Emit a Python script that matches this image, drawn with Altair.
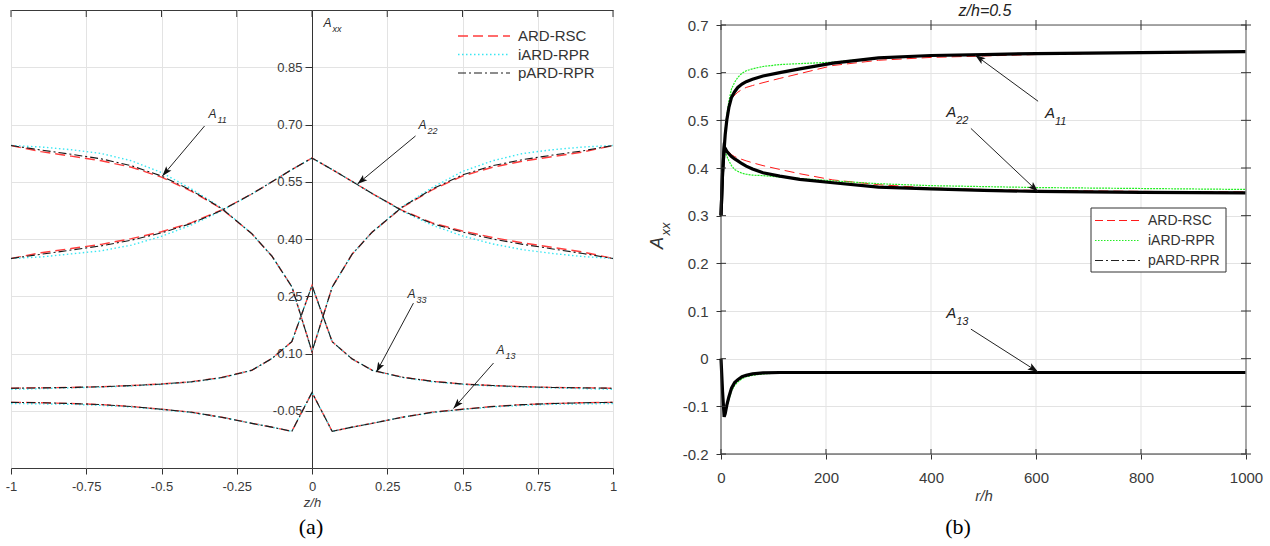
import math
import altair as alt
import pandas as pd

# ---------------- panel (a): A_xx versus z/h ----------------
Z = [-1, -0.9, -0.8, -0.7, -0.6, -0.5, -0.4, -0.3, -0.2, -0.133, -0.067, 0,
     0.067, 0.133, 0.2, 0.3, 0.4, 0.5, 0.6, 0.7, 0.8, 0.9, 1]

A11_ARD = [0.645, 0.629, 0.617, 0.605, 0.588, 0.562, 0.525, 0.479, 0.414, 0.355, 0.275, 0.105,
           0.274, 0.360, 0.418, 0.483, 0.529, 0.565, 0.588, 0.604, 0.616, 0.628, 0.645]
A11_IARD = [0.645, 0.641, 0.634, 0.624, 0.605, 0.574, 0.531, 0.481, 0.414, 0.355, 0.275, 0.105,
            0.274, 0.360, 0.418, 0.485, 0.535, 0.577, 0.605, 0.624, 0.634, 0.641, 0.645]
A11_PARD = [0.645, 0.633, 0.622, 0.610, 0.592, 0.565, 0.527, 0.480, 0.414, 0.355, 0.275, 0.105,
            0.274, 0.360, 0.418, 0.484, 0.531, 0.568, 0.592, 0.608, 0.620, 0.631, 0.645]

A22_ARD = [0.349, 0.364, 0.375, 0.386, 0.401, 0.419, 0.443, 0.476, 0.518, 0.550, 0.582, 0.612,
           0.582, 0.551, 0.519, 0.475, 0.442, 0.421, 0.404, 0.390, 0.378, 0.366, 0.349]
A22_IARD = [0.349, 0.353, 0.361, 0.369, 0.384, 0.407, 0.437, 0.474, 0.518, 0.550, 0.582, 0.612,
            0.582, 0.551, 0.519, 0.473, 0.436, 0.408, 0.387, 0.372, 0.362, 0.354, 0.349]
A22_PARD = [0.349, 0.360, 0.371, 0.382, 0.397, 0.416, 0.441, 0.475, 0.518, 0.550, 0.582, 0.612,
            0.582, 0.551, 0.519, 0.474, 0.440, 0.418, 0.400, 0.386, 0.374, 0.362, 0.349]

A33_ARD = [0.009, 0.010, 0.011, 0.013, 0.016, 0.020, 0.026, 0.037, 0.056, 0.087, 0.131, 0.278,
           0.131, 0.086, 0.056, 0.038, 0.027, 0.020, 0.016, 0.013, 0.011, 0.010, 0.009]
A33_IARD = [0.006, 0.008, 0.010, 0.012, 0.015, 0.019, 0.025, 0.036, 0.056, 0.087, 0.131, 0.278,
            0.131, 0.086, 0.056, 0.037, 0.026, 0.019, 0.015, 0.012, 0.010, 0.008, 0.006]
A33_PARD = [0.009, 0.010, 0.011, 0.013, 0.016, 0.020, 0.026, 0.037, 0.056, 0.087, 0.131, 0.278,
            0.131, 0.086, 0.056, 0.038, 0.027, 0.020, 0.016, 0.013, 0.011, 0.010, 0.009]

A13_ARD = [-0.028, -0.029, -0.031, -0.034, -0.039, -0.046, -0.054, -0.067, -0.083, -0.093, -0.104, -0.002,
           -0.104, -0.093, -0.083, -0.067, -0.054, -0.046, -0.039, -0.034, -0.031, -0.029, -0.028]
A13_IARD = [-0.031, -0.032, -0.033, -0.036, -0.040, -0.047, -0.055, -0.067, -0.083, -0.093, -0.104, -0.002,
            -0.104, -0.093, -0.083, -0.067, -0.055, -0.047, -0.040, -0.036, -0.033, -0.032, -0.031]
A13_PARD = [-0.028, -0.029, -0.031, -0.034, -0.039, -0.046, -0.054, -0.067, -0.083, -0.093, -0.104, -0.002,
            -0.104, -0.093, -0.083, -0.067, -0.054, -0.046, -0.039, -0.034, -0.031, -0.029, -0.028]

# ---------------- panel (b): A_xx versus r/h at z/h = 0.5 ----------------
R = [0, 3, 6, 8, 11, 15, 20, 26, 32, 40, 48, 60, 80, 112, 150, 213, 300, 400, 500, 600, 700, 800, 900, 1000]

B11_ARD = [0.30, 0.39, 0.44, 0.47, 0.50, 0.525, 0.545, 0.553, 0.559, 0.565, 0.569, 0.573, 0.579, 0.588,
           0.598, 0.615, 0.626, 0.632, 0.635, 0.638, 0.640, 0.641, 0.642, 0.643]
B11_IARD = [0.30, 0.39, 0.44, 0.48, 0.51, 0.54, 0.566, 0.580, 0.590, 0.599, 0.604, 0.608, 0.613, 0.617,
            0.619, 0.622, 0.631, 0.636, 0.638, 0.640, 0.641, 0.642, 0.643, 0.644]
B11_PARD = [0.30, 0.39, 0.44, 0.47, 0.50, 0.527, 0.548, 0.560, 0.569, 0.576, 0.581, 0.586, 0.593, 0.600,
            0.608, 0.620, 0.631, 0.636, 0.638, 0.640, 0.641, 0.642, 0.643, 0.644]

B22_ARD = [0.30, 0.39, 0.444, 0.442, 0.438, 0.434, 0.428, 0.424, 0.421, 0.418, 0.415, 0.411, 0.405, 0.397,
           0.388, 0.375, 0.365, 0.358, 0.355, 0.353, 0.352, 0.351, 0.350, 0.350]
B22_IARD = [0.30, 0.39, 0.440, 0.435, 0.425, 0.415, 0.405, 0.397, 0.393, 0.389, 0.387, 0.385, 0.384, 0.381,
            0.378, 0.373, 0.367, 0.363, 0.361, 0.359, 0.358, 0.357, 0.356, 0.355]
B22_PARD = [0.30, 0.39, 0.444, 0.441, 0.435, 0.430, 0.424, 0.419, 0.415, 0.409, 0.404, 0.398, 0.390, 0.383,
            0.376, 0.369, 0.360, 0.356, 0.353, 0.351, 0.350, 0.349, 0.3485, 0.348]

B13_ARD = [0.0, -0.07, -0.122, -0.115, -0.098, -0.080, -0.062, -0.050, -0.044, -0.038, -0.035, -0.032,
           -0.030, -0.029, -0.029, -0.029, -0.029, -0.029, -0.029, -0.029, -0.029, -0.029, -0.029, -0.029]
B13_IARD = [0.0, -0.07, -0.122, -0.117, -0.102, -0.086, -0.068, -0.056, -0.049, -0.042, -0.038, -0.035,
            -0.032, -0.030, -0.029, -0.029, -0.029, -0.029, -0.029, -0.029, -0.029, -0.029, -0.029, -0.029]
B13_PARD = [0.0, -0.07, -0.122, -0.115, -0.098, -0.080, -0.062, -0.050, -0.044, -0.038, -0.035, -0.032,
            -0.030, -0.029, -0.029, -0.029, -0.029, -0.029, -0.029, -0.029, -0.029, -0.029, -0.029, -0.029]

METHODS = ["ARD-RSC", "iARD-RPR", "pARD-RPR"]

XA_TICKS = [-1, -0.75, -0.5, -0.25, 0, 0.25, 0.5, 0.75, 1]
YA_TICKS = [-0.05, 0.10, 0.25, 0.40, 0.55, 0.70, 0.85]
XB_TICKS = [0, 200, 400, 600, 800, 1000]
YB_TICKS = [-0.2, -0.1, 0, 0.1, 0.2, 0.3, 0.4, 0.5, 0.6, 0.7]

# annotation labels (A + subscript) and arrows, in data units
LAB_A_SUB = ["11", "22", "33", "13", "xx"]
LAB_A_Z = [-0.344, 0.354, 0.317, 0.613, 0.038]
LAB_A_V = [0.717, 0.688, 0.245, 0.099, 0.955]
ARR_A_Z1 = [-0.357, 0.344, 0.337, 0.603]
ARR_A_V1 = [0.696, 0.670, 0.232, 0.075]
ARR_A_Z2 = [-0.497, 0.151, 0.214, 0.470]
ARR_A_V2 = [0.565, 0.544, 0.051, -0.044]

LAB_B_SUB = ["11", "22", "13"]
LAB_B_R = [617, 429, 429]
LAB_B_V = [0.504, 0.508, 0.085]
ARR_B_R1 = [604, 476, 476]
ARR_B_V1 = [0.540, 0.483, 0.062]
ARR_B_R2 = [484, 604, 604]
ARR_B_V2 = [0.637, 0.350, -0.028]

# ---------------- layout / style ----------------
WA, HA = 602, 458
WB, HB = 525, 429
TOPB = 15                      # panel (b) frame starts this many px below panel (a)'s
HB2 = HB + TOPB
YB_TOP = 0.7 + TOPB * 0.9 / HB  # scale top so that 0.7 sits TOPB px below the view top
FONT = "Liberation Sans"
TXT = "#3a3a3a"
GRID = "#e3e3e3"
ARROW_PATH = "M0,0L-0.34,1L0,0.78L0.34,1Z"

STYLE_A = {
    "ARD-RSC": dict(color="#ff3c3c", strokeDash=[10, 5], strokeWidth=1.4),
    "iARD-RPR": dict(color="#38e6f2", strokeDash=[1.5, 2.5], strokeWidth=1.4),
    "pARD-RPR": dict(color="#1a1a1a", strokeDash=[8, 3, 2, 3], strokeWidth=1.1),
}
STYLE_B = {
    "ARD-RSC": dict(color="#ff1a1a", strokeDash=[10, 5], strokeWidth=1.0),
    "iARD-RPR": dict(color="#22ee22", strokeDash=[2, 1], strokeWidth=1.2),
    "pARD-RPR": dict(color="#000000", strokeWidth=3.2),
}
LEG_B = {
    "ARD-RSC": dict(color="#ff1a1a", strokeDash=[8, 4], strokeWidth=1.0),
    "iARD-RPR": dict(color="#22ee22", strokeDash=[1.5, 1.5], strokeWidth=1.2),
    "pARD-RPR": dict(color="#222222", strokeDash=[8, 3, 2, 3], strokeWidth=1.0),
}

SERIES_A = {
    "ARD-RSC": {"A11": A11_ARD, "A22": A22_ARD, "A33": A33_ARD, "A13": A13_ARD},
    "iARD-RPR": {"A11": A11_IARD, "A22": A22_IARD, "A33": A33_IARD, "A13": A13_IARD},
    "pARD-RPR": {"A11": A11_PARD, "A22": A22_PARD, "A33": A33_PARD, "A13": A13_PARD},
}
SERIES_B = {
    "ARD-RSC": {"A11": B11_ARD, "A22": B22_ARD, "A13": B13_ARD},
    "iARD-RPR": {"A11": B11_IARD, "A22": B22_IARD, "A13": B13_IARD},
    "pARD-RPR": {"A11": B11_PARD, "A22": B22_PARD, "A13": B13_PARD},
}

SX_A = alt.Scale(domain=[-1, 1], nice=False, zero=False)
SY_A = alt.Scale(domain=[-0.2, 1.0], nice=False, zero=False)
SX_B = alt.Scale(domain=[0, 1000], nice=False, zero=False)
SY_B = alt.Scale(domain=[-0.2, YB_TOP], nice=False, zero=False)


def long_df(series, xs, xname):
    rows = []
    for m, comps in series.items():
        for c, vals in comps.items():
            for x, v in zip(xs, vals):
                rows.append({xname: x, "v": v, "comp": c, "method": m})
    return pd.DataFrame(rows)


def angles(x1, y1, x2, y2, sx, sy):
    out = []
    for a, b, c, d in zip(x1, y1, x2, y2):
        dx = (c - a) * sx
        dy = -(d - b) * sy
        out.append(math.degrees(math.atan2(dx, -dy)) % 360)
    return out


one = pd.DataFrame({"k": [0]})

# ======================= PANEL A =======================
ax_xa = alt.Axis(values=XA_TICKS, labelExpr="'' + datum.value", tickSize=6, tickColor="#333",
                 labelPadding=6, labelFontSize=13, labelColor=TXT, labelFont=FONT, labelFlush=False,
                 domain=False, grid=True, gridColor=GRID, title="z/h", titleFont=FONT,
                 titleFontStyle="italic", titleFontWeight="normal", titleFontSize=13,
                 titleColor=TXT, titlePadding=3)
ax_ya = alt.Axis(orient="left", offset=-WA / 2, values=YA_TICKS,
                 labelExpr="datum.value < 0 ? '-' + format(-datum.value, '.2f') : format(datum.value, '.2f')",
                 tickSize=7, tickColor="#333", domain=True, domainColor="#333", labelPadding=3,
                 labelFontSize=13, labelColor=TXT, labelFont=FONT, grid=True, gridColor=GRID, title=None)


def XA(f):
    return alt.X(f, type="quantitative", scale=SX_A, axis=ax_xa)


def YA(f):
    return alt.Y(f, type="quantitative", scale=SY_A, axis=ax_ya)


df_a = long_df(SERIES_A, Z, "z")
layers_a = []
for m in METHODS:
    layers_a.append(
        alt.Chart(df_a[df_a["method"] == m]).mark_line(**STYLE_A[m]).encode(
            x=XA("z"), y=YA("v"), detail="comp:N"))

# inward ticks on the top edge
layers_a.append(alt.Chart(pd.DataFrame({"t": XA_TICKS})).mark_rule(color="#333", strokeWidth=1).encode(
    x=XA("t"), y=alt.value(0), y2=alt.value(7)))

arr_a = pd.DataFrame({"z1": ARR_A_Z1, "v1": ARR_A_V1, "z2": ARR_A_Z2, "v2": ARR_A_V2})
arr_a["ang"] = angles(ARR_A_Z1, ARR_A_V1, ARR_A_Z2, ARR_A_V2, WA / 2.0, HA / 1.2)
layers_a.append(alt.Chart(arr_a).mark_rule(color="#222", strokeWidth=1).encode(
    x=XA("z1"), y=YA("v1"), x2="z2:Q", y2="v2:Q"))
layers_a.append(alt.Chart(arr_a).mark_point(shape=ARROW_PATH, filled=True, size=400, color="#111",
                                            opacity=1, strokeWidth=0).encode(
    x=XA("z2"), y=YA("v2"), angle=alt.Angle("ang:Q", scale=None)))

lab_a = pd.DataFrame({"z": LAB_A_Z, "v": LAB_A_V, "sub": LAB_A_SUB, "main": ["A"] * len(LAB_A_SUB)})
layers_a.append(alt.Chart(lab_a).mark_text(align="left", baseline="alphabetic", font=FONT, fontStyle="italic",
                                           fontSize=12, color="#2a2a2a").encode(
    x=XA("z"), y=YA("v"), text="main:N"))
layers_a.append(alt.Chart(lab_a).mark_text(align="left", baseline="alphabetic", font=FONT, fontStyle="italic",
                                           fontSize=9, dx=9, dy=5, color="#2a2a2a").encode(
    x=XA("z"), y=YA("v"), text="sub:N"))

# legend (a), no box
LEG_A_Y = [26, 44.5, 63]
for m, yy in zip(METHODS, LEG_A_Y):
    d = pd.DataFrame({"m": [m]})
    layers_a.append(alt.Chart(d).mark_rule(**STYLE_A[m]).encode(
        x=alt.value(447), x2=alt.value(499), y=alt.value(yy)))
    layers_a.append(alt.Chart(d).mark_text(align="left", baseline="middle", font=FONT, fontSize=15,
                                           color="#333").encode(
        x=alt.value(507), y=alt.value(yy), text="m:N"))

layers_a.append(alt.Chart(pd.DataFrame({"t": ["(a)"]})).mark_text(
    align="center", baseline="alphabetic", font="Liberation Serif", fontSize=22, color="#000").encode(
    x=alt.value(300), y=alt.value(524), text="t:N"))

panel_a = alt.layer(*layers_a).properties(width=WA, height=HA)

# ======================= PANEL B =======================
ax_xb = alt.Axis(values=XB_TICKS, labelExpr="'' + datum.value", tickSize=5, tickColor="#333",
                 labelPadding=11, labelFontSize=15, labelColor=TXT, labelFont=FONT, labelFlush=False,
                 domain=False, grid=False, title="r/h", titleFont=FONT,
                 titleFontStyle="italic", titleFontWeight="normal", titleFontSize=15,
                 titleColor=TXT, titlePadding=3)
ax_yb = alt.Axis(values=YB_TICKS,
                 labelExpr="datum.value == 0 ? '0' : (datum.value < 0 ? '-' + format(-datum.value, '.1f') : format(datum.value, '.1f'))",
                 tickSize=5, tickColor="#333", domain=False, labelPadding=8, labelFontSize=15,
                 labelColor=TXT, labelFont=FONT, grid=True, gridColor=GRID, title=None)


def XB(f):
    return alt.X(f, type="quantitative", scale=SX_B, axis=ax_xb)


def YB(f):
    return alt.Y(f, type="quantitative", scale=SY_B, axis=ax_yb)


df_b = long_df(SERIES_B, R, "r")
layers_b = []

# vertical grid lines, limited to the frame
grid_b = pd.DataFrame({"t": XB_TICKS[1:-1], "lo": [YB_TICKS[0]] * 4, "hi": [YB_TICKS[-1]] * 4})
layers_b.append(alt.Chart(grid_b).mark_rule(color=GRID, strokeWidth=1).encode(
    x=XB("t"), y=YB("lo"), y2="hi:Q"))

for m in METHODS:
    layers_b.append(
        alt.Chart(df_b[df_b["method"] == m]).mark_line(**STYLE_B[m]).encode(
            x=XB("r"), y=YB("v"), detail="comp:N"))

# frame of panel (b)
frame_h = pd.DataFrame({"a": [XB_TICKS[0]], "b": [XB_TICKS[-1]], "y": [YB_TICKS[-1]]})
frame_v = pd.DataFrame({"lo": [YB_TICKS[0]], "hi": [YB_TICKS[-1]]})
layers_b.append(alt.Chart(frame_h).mark_rule(color="#8a8a8a", strokeWidth=1.5).encode(
    x=XB("a"), x2="b:Q", y=YB("y")))
layers_b.append(alt.Chart(one).mark_rule(color="#333", strokeWidth=1).encode(
    x=alt.value(0), x2=alt.value(WB), y=alt.value(HB2)))
layers_b.append(alt.Chart(frame_v).mark_rule(color="#333", strokeWidth=1).encode(
    x=alt.value(0), y=YB("lo"), y2="hi:Q"))
layers_b.append(alt.Chart(frame_v).mark_rule(color="#8a8a8a", strokeWidth=1.5).encode(
    x=alt.value(WB), y=YB("lo"), y2="hi:Q"))

tx = pd.DataFrame({"t": XB_TICKS})
ty = pd.DataFrame({"t": YB_TICKS})
layers_b.append(alt.Chart(tx).mark_rule(color="#333").encode(
    x=XB("t"), y=alt.value(HB2 - 5), y2=alt.value(HB2)))
layers_b.append(alt.Chart(tx).mark_rule(color="#333").encode(
    x=XB("t"), y=alt.value(TOPB - 5), y2=alt.value(TOPB + 5)))
layers_b.append(alt.Chart(ty).mark_rule(color="#333").encode(
    y=YB("t"), x=alt.value(0), x2=alt.value(5)))
layers_b.append(alt.Chart(ty).mark_rule(color="#333").encode(
    y=YB("t"), x=alt.value(WB - 5), x2=alt.value(WB + 5)))

arr_b = pd.DataFrame({"r1": ARR_B_R1, "v1": ARR_B_V1, "r2": ARR_B_R2, "v2": ARR_B_V2})
arr_b["ang"] = angles(ARR_B_R1, ARR_B_V1, ARR_B_R2, ARR_B_V2, WB / 1000.0, HB / 0.9)
layers_b.append(alt.Chart(arr_b).mark_rule(color="#222", strokeWidth=1).encode(
    x=XB("r1"), y=YB("v1"), x2="r2:Q", y2="v2:Q"))
layers_b.append(alt.Chart(arr_b).mark_point(shape=ARROW_PATH, filled=True, size=440, color="#111",
                                            opacity=1, strokeWidth=0).encode(
    x=XB("r2"), y=YB("v2"), angle=alt.Angle("ang:Q", scale=None)))

lab_b = pd.DataFrame({"r": LAB_B_R, "v": LAB_B_V, "sub": LAB_B_SUB, "main": ["A"] * len(LAB_B_SUB)})
layers_b.append(alt.Chart(lab_b).mark_text(align="left", baseline="alphabetic", font=FONT, fontStyle="italic",
                                           fontSize=15, color="#222").encode(
    x=XB("r"), y=YB("v"), text="main:N"))
layers_b.append(alt.Chart(lab_b).mark_text(align="left", baseline="alphabetic", font=FONT, fontStyle="italic",
                                           fontSize=11, dx=10, dy=7, color="#222").encode(
    x=XB("r"), y=YB("v"), text="sub:N"))

# title and rotated y label
layers_b.append(alt.Chart(pd.DataFrame({"t": ["z/h=0.5"]})).mark_text(
    align="center", baseline="alphabetic", font=FONT, fontStyle="italic", fontSize=16, color="#222").encode(
    x=alt.value(264), y=alt.value(TOPB - 9), text="t:N"))
layers_b.append(alt.Chart(pd.DataFrame({"t": ["A"]})).mark_text(
    align="center", baseline="middle", angle=270, font=FONT, fontStyle="italic", fontSize=18, color="#333").encode(
    x=alt.value(-63), y=alt.value(TOPB + 218), text="t:N"))
layers_b.append(alt.Chart(pd.DataFrame({"t": ["xx"]})).mark_text(
    align="center", baseline="middle", angle=270, font=FONT, fontStyle="italic", fontSize=13, color="#333").encode(
    x=alt.value(-55), y=alt.value(TOPB + 204), text="t:N"))

# legend (b), boxed
layers_b.append(alt.Chart(one).mark_rect(fill="white", stroke="#333", strokeWidth=1).encode(
    x=alt.value(370), x2=alt.value(505), y=alt.value(TOPB + 183), y2=alt.value(TOPB + 247)))
LEG_B_Y = [195.5, 215.5, 235.5]
for m, yy in zip(METHODS, LEG_B_Y):
    d = pd.DataFrame({"m": [m]})
    layers_b.append(alt.Chart(d).mark_rule(**LEG_B[m]).encode(
        x=alt.value(374), x2=alt.value(419), y=alt.value(TOPB + yy)))
    layers_b.append(alt.Chart(d).mark_text(align="left", baseline="middle", font=FONT, fontSize=14,
                                           color="#333").encode(
        x=alt.value(427), y=alt.value(TOPB + yy), text="m:N"))

layers_b.append(alt.Chart(pd.DataFrame({"t": ["(b)"]})).mark_text(
    align="center", baseline="alphabetic", font="Liberation Serif", fontSize=22, color="#000").encode(
    x=alt.value(237), y=alt.value(TOPB + 509), text="t:N"))

panel_b = alt.layer(*layers_b).properties(
    width=WB, height=HB2, view=alt.ViewBackground(stroke="transparent"))

chart = alt.hconcat(panel_a, panel_b, spacing=30).properties(
    padding={"left": 4, "top": 2, "right": 0, "bottom": 0}
).configure_view(stroke="#3a3a3a", strokeWidth=1)

chart.save("out.html", embed_options={"renderer": "svg", "actions": False})
